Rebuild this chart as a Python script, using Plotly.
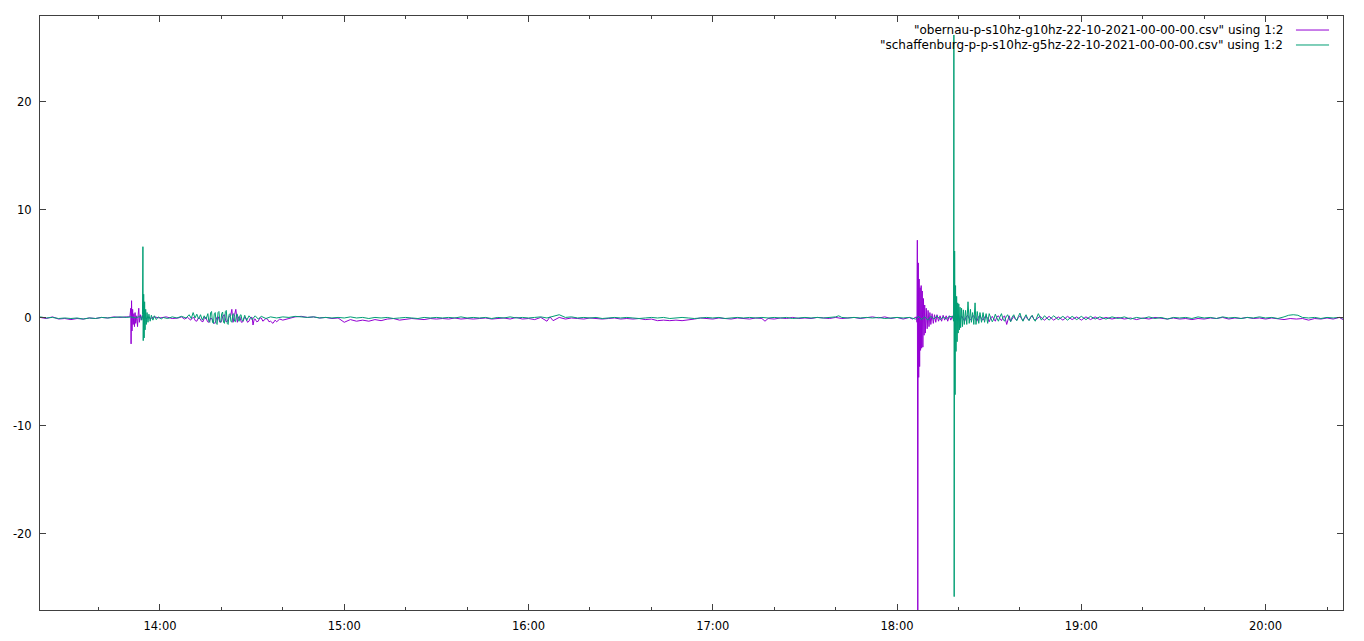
import pandas as pd
import plotly.graph_objects as go

BASE = pd.Timestamp("2021-10-22 13:00:00")

# ---- obernau (purple) : minutes after 13:00, value ----
obernau_t = [
    21, 23, 25, 27, 29, 31, 33, 35, 37, 39, 41, 43, 45, 47, 49,
    50.2, 50.5, 50.6, 50.75, 50.9, 51.1, 51.3, 51.5, 51.7, 51.9, 52.1, 52.4, 52.7, 52.9,
    53.1, 53.3, 53.6, 53.9, 54.2, 54.6, 55.0, 55.5, 56, 57, 58, 60, 62, 64,
    66, 67, 68, 69, 70, 70.5, 71, 71.5, 72, 72.5, 73, 73.5, 74, 74.5, 75, 75.5, 76, 76.5, 77,
    77.5, 78, 78.5, 79, 79.5, 80, 80.5, 81, 81.5, 82, 82.5, 83, 83.4, 83.8,
    84.3, 84.7, 85.2, 85.6, 86, 86.5, 87, 87.5, 88, 88.5, 89, 89.5, 90, 90.3, 90.7, 91, 91.5,
    92, 92.5, 93, 93.5, 94, 94.5, 95, 95.5, 96, 96.8, 97.5, 98, 99,
    100, 102, 104, 106, 108, 110, 112, 114, 116, 118, 120, 122, 124, 126, 128, 130, 132, 134,
    136, 138, 140, 142, 144, 146, 148, 150, 152, 154, 156, 158, 160, 162, 164, 166, 168, 170,
    172, 174, 176, 178, 180, 182, 184, 186, 187, 188, 190, 192, 194, 196, 198, 200, 202, 204,
    206, 208, 210, 212, 214, 216, 218, 220, 222, 224, 226, 228, 230, 232, 234, 236, 238, 240,
    242, 244, 246, 248, 250, 252, 254, 256, 257, 258, 260, 262, 264, 266, 268, 270, 272, 274,
    276, 278, 280, 282, 284, 286, 288, 290, 292, 294, 296, 298, 300, 302, 304, 305, 306,
    306.3, 306.5, 306.6, 306.75, 306.9, 307.05, 307.2, 307.35, 307.5, 307.65, 307.85, 308.0,
    308.2, 308.4, 308.6, 308.8, 309.0, 309.2, 309.5, 309.8, 310.1, 310.4, 310.7, 311.0, 311.4,
    311.8, 312.2, 312.6, 313.0, 313.5, 314.0, 314.5, 315, 315.5, 316, 316.5, 317, 317.5, 318,
    318.5, 319, 319.5, 320, 320.5, 321, 321.5, 322, 322.5, 323, 323.5, 324, 324.5, 325, 325.5,
    326, 326.5, 327, 327.5, 328, 328.5, 329, 329.5, 330, 330.5, 331, 331.5, 332, 332.5,
    333, 333.5, 334, 334.5, 335, 335.7, 336.5, 337, 337.5, 338, 338.5, 339, 339.5, 340, 340.5,
    341, 341.5, 342, 342.5, 343, 343.5, 344, 344.5, 345, 346.5, 348,
    349.5, 351, 352.5, 354, 355.5, 357, 358.5, 360, 361.5, 363, 364.5, 366, 368, 370, 372,
    374, 376, 378, 380, 382, 384, 386, 388, 390, 392, 394, 396, 398, 400, 402, 404, 406, 408,
    410, 412, 414, 416, 418, 420, 422, 424, 426, 428, 430, 432, 434, 436, 438, 440, 442, 444, 445.2,
]
obernau_v = [
    0.05, -0.05, 0.1, -0.1, -0.05, -0.15, -0.05, -0.1, 0.0, -0.05, 0.05, 0.0, 0.1, 0.05, 0.1,
    0.1, 0.9, -2.4, 1.6, -1.2, 0.8, -0.6, 0.4, -0.8, 0.5, -0.5, 0.2, -0.8, 0.3,
    0.9, -0.4, 0.3, -0.2, 0.2, -0.15, 0.15, -0.1, 0.1, -0.05, 0.1, 0.0, 0.1, -0.05,
    0.0, 0.1, -0.1, 0.05, -0.2, 0.0, 0.05, -0.25, -0.3, 0.0, -0.05, -0.3, -0.35, 0.05, 0.0, -0.35, -0.4, 0.0, -0.1,
    -0.5, -0.45, 0.05, 0.1, -0.4, -0.35, 0.2, 0.3, -0.35, -0.3, 0.15, 0.2, 0.8, -0.4,
    0.3, 0.8, -0.4, 0.1, 0.1, -0.4, -0.35, 0.05, 0.0, -0.4, -0.3, 0.05, 0.05, -0.65, -0.1, -0.1, -0.35,
    -0.3, 0.0, 0.0, -0.3, -0.2, -0.05, -0.1, -0.35, -0.3, -0.5, -0.2, -0.35, -0.1,
    -0.2, -0.05, 0.1, 0.15, 0.05, 0.1, 0.0, 0.05, -0.05, 0.0, -0.4, -0.15, -0.3, -0.2, -0.3, -0.15, -0.25, -0.1,
    -0.05, -0.2, -0.1, -0.05, -0.1, -0.15, -0.05, -0.1, -0.05, -0.1, 0.0, -0.1, -0.05, -0.1, -0.05, 0.0, -0.1, -0.05,
    0.0, -0.1, 0.05, -0.1, -0.05, -0.15, 0.05, -0.3, 0.1, -0.25, 0.05, -0.1, 0.0, -0.05, -0.1, 0.0, -0.05, -0.1,
    -0.05, 0.0, -0.1, -0.05, -0.1, -0.05, -0.15, -0.1, -0.25, -0.2, -0.25, -0.2, -0.25, -0.2, -0.1, 0.0, -0.05, -0.1,
    0.0, -0.05, -0.1, 0.0, -0.05, -0.1, 0.0, -0.05, -0.3, -0.05, -0.1, 0.0, -0.05, 0.05, -0.05, 0.0, -0.05, 0.05,
    0.0, -0.05, 0.05, -0.05, 0.0, 0.05, -0.05, 0.0, 0.1, 0.0, 0.1, -0.05, 0.05, -0.1, 0.05, -0.1, 0.1,
    0.1, -0.4, 7.2, -27.5, 5.1, -5.5, 3.6, -4.5, 2.8, -3.0, 3.0, -2.8,
    2.5, -2.7, 1.8, -1.6, 1.2, -1.4, 0.9, -1.0, 0.7, -0.8, 0.5, -0.6, 0.4,
    -0.5, 0.3, -0.4, 0.3, -0.3, 0.2, -0.3, 0.25, -0.2, 0.2, -0.3, 0.2, -0.2, 0.2,
    -0.25, 0.25, -0.2, 0.3, -0.3, 0.2, -0.1, -0.3, 0.1, 0.25, -0.05, -0.2, 0.15, 0.2, -0.1,
    -0.3, 0.1, 0.25, -0.1, -0.2, 0.1, 0.2, -0.05, -0.35, 0.0, 0.15, -0.1, -0.3, 0.1,
    0.2, -0.05, -0.25, 0.05, 0.2, -0.6, 0.2, -0.3, 0.0, 0.15, -0.1, -0.2, 0.05, 0.2, -0.05,
    -0.25, 0.0, 0.15, -0.1, -0.2, 0.05, 0.2, -0.1, -0.2, 0.15, -0.2, 0.15,
    -0.2, 0.1, -0.2, 0.15, -0.15, 0.1, -0.2, 0.1, -0.15, 0.1, -0.15, 0.05, -0.1, 0.05, -0.1,
    0.0, -0.15, 0.0, -0.1, 0.05, -0.05, -0.1, 0.0, -0.1, -0.05, -0.15, -0.05, -0.1, 0.0, -0.05, 0.05, -0.1, 0.0,
    -0.05, 0.05, -0.05, 0.0, -0.1, 0.0, -0.05, -0.15, -0.05, -0.1, -0.05, -0.2, -0.05, -0.1, 0.0, -0.1, 0.05, -0.15, 0.0,
]

# ---- schaffenburg (green) : minutes after 13:00, value ----
schaff_t = [
    21, 23, 25, 27, 29, 31, 33, 35, 37, 39, 41, 43, 45, 47, 49, 50.5, 52, 53, 53.8,
    54.1, 54.3, 54.45, 54.55, 54.7, 54.85, 55.0, 55.15, 55.35, 55.55, 55.8, 56.1, 56.4,
    56.8, 57.2, 57.7, 58.2, 58.8, 59.5, 60.5, 61, 62.5, 64, 65.5, 67, 68.5, 69.5, 70.2,
    70.8, 71.4, 72, 72.6, 73.2, 73.8, 74.4, 75, 75.3, 75.6, 75.9, 76.2, 76.5, 76.8, 77.1,
    77.4, 77.7, 78, 78.3, 78.6, 78.9, 79.2, 79.5, 79.8, 80.1, 80.4, 80.7, 81, 81.3, 81.6,
    81.9, 82.2, 82.5, 82.8, 83.1, 83.4, 83.7, 84, 84.3, 84.6, 84.9, 85.2, 85.5, 85.8, 86.1,
    86.4, 86.7, 87, 87.6, 88.2,
    89, 90, 91, 92, 93, 94.5, 96, 98, 100, 102, 104, 106, 108, 110, 112, 114, 116, 118,
    120, 122, 124, 126, 128, 130, 132, 134, 136, 138, 140, 142, 144, 146, 148, 150, 152,
    154, 156, 158, 160, 162, 164, 166, 168, 170, 172, 174, 176, 178, 180, 182, 184, 186,
    188, 190, 192, 194, 196, 198, 200, 202, 204, 206, 208, 210, 212, 214, 216, 218, 220,
    222, 224, 226, 228, 230, 232, 234, 236, 238, 240, 242, 244, 246, 248, 250, 252, 254,
    256, 258, 260, 262, 264, 266, 268, 270, 272, 274, 276, 278, 280, 281, 282, 284, 286,
    288, 290, 292, 294, 296, 298, 300, 302, 304, 306, 307, 308, 309, 310, 311, 312, 313,
    314, 315, 316, 317, 318.2, 318.4, 318.5, 318.6, 318.75, 318.9, 319.05, 319.2, 319.4,
    319.55, 319.75, 319.9, 320.1, 320.3, 320.5, 320.7, 321.0, 321.3, 321.6, 321.9, 322.3,
    322.7, 323.1, 323.5, 323.9, 324.2, 324.6, 325.0, 325.4, 325.7, 326.1, 326.6, 327.0,
    327.5, 328, 328.5, 329, 329.5, 330, 330.5, 331, 331.5, 332, 332.5, 333, 333.5, 334,
    334.5, 335, 335.5, 336, 336.5, 337, 337.5, 338, 338.5, 339, 339.5, 340, 340.5,
    341, 341.5, 342, 342.5, 343, 343.5, 344, 344.5, 345, 346, 347, 348, 349.5, 351, 352.5, 354, 355.5, 357, 358.5, 360,
    361.5, 363, 364.5, 366, 368, 370, 372, 374, 376, 378, 380, 382, 384, 386, 388, 390, 392,
    394, 396, 398, 400, 402, 404, 406, 408, 410, 412, 414, 416, 418, 420, 422, 424, 426,
    427.5, 429, 430.5, 432, 434, 436, 438, 440, 442, 444, 445.2,
]
schaff_v = [
    0.1, 0.0, 0.05, -0.05, 0.0, -0.05, 0.0, -0.1, 0.0, -0.05, 0.05, 0.0, 0.05, 0.1, 0.05, 0.1, 0.0, 0.1, 0.1,
    -0.2, 0.3, 6.6, -2.1, 2.2, -1.85, 1.5, -1.1, 0.8, -0.6, 0.5, -0.4, 0.35,
    -0.3, 0.25, -0.2, 0.2, -0.15, 0.1, -0.1, 0.05, -0.05, 0.1, 0.0, 0.15, 0.0, 0.3, -0.05,
    0.5, 0.0, 0.35, -0.1, 0.3, -0.2, 0.2, -0.1, 0.2, 0.4, -0.3, -0.4, 0.5, 0.6, -0.4,
    -0.5, 0.4, 0.5, -0.5, -0.6, 0.5, 0.6, -0.3, -0.4, 0.4, 0.55, -0.4, -0.5, 0.6, 0.7,
    -0.5, -0.6, 0.3, 0.4, -0.3, -0.4, 0.3, 0.4, -0.3, -0.35, 0.3, 0.35, -0.25, -0.3, 0.25,
    0.3, -0.2, -0.3, 0.25, -0.25,
    0.2, -0.15, 0.2, -0.1, 0.15, -0.05, 0.1, 0.0, 0.1, 0.05, 0.15, 0.1, 0.05, 0.1, 0.0, 0.05, 0.0, 0.05,
    0.0, 0.1, 0.0, 0.05, -0.05, 0.05, 0.0, 0.05, -0.05, 0.0, 0.05, 0.0, -0.05, 0.05, 0.0, 0.05, 0.0,
    0.05, 0.0, 0.1, 0.0, 0.05, 0.0, 0.05, -0.05, 0.05, 0.0, 0.1, 0.0, 0.05, 0.0, 0.05, 0.1, 0.0,
    0.15, 0.3, 0.05, 0.1, 0.0, 0.05, 0.0, 0.05, -0.05, 0.0, 0.05, 0.0, 0.05, 0.0, -0.05, 0.0, 0.05,
    0.0, 0.05, -0.05, 0.0, 0.05, 0.0, -0.05, 0.0, 0.05, 0.0, 0.05, -0.05, 0.0, 0.05, 0.0, 0.05, 0.0,
    0.05, 0.0, 0.05, 0.0, 0.05, -0.05, 0.0, 0.05, 0.0, 0.05, 0.0, 0.05, 0.1, 0.2, 0.05, 0.0, 0.05,
    0.0, 0.05, 0.0, 0.05, -0.05, 0.0, 0.05, 0.0, 0.05, -0.1, 0.15, -0.15, 0.1, -0.2, 0.15, -0.1, 0.2,
    -0.15, 0.1, -0.1, 0.15, 0.1, -0.3, 26.2, -25.8, 6.2, -7.1, 3.0, -3.1, 2.0,
    -2.2, 1.4, -1.4, 1.3, -1.1, 1.0, -0.9, 0.9, -0.8, 0.75, -0.6, 0.7,
    -0.6, 1.5, -0.5, 0.8, -0.4, 0.5, -0.6, 1.4, -0.6, 0.6, -0.5, 0.5,
    -0.4, 0.5, -0.4, 0.4, -0.5, 0.4, 0.1, -0.35, -0.1, 0.35, 0.0, -0.3, 0.1, 0.4,
    -0.1, -0.3, 0.1, 0.3, -0.05, -0.35, 0.1, 0.3, -0.05, -0.25, 0.15, 0.45, 0.0,
    -0.3, 0.05, 0.3, -0.05, -0.25, 0.1, 0.25, -0.1, -0.3, 0.4, -0.2, 0.2, -0.2, 0.2, -0.15, 0.15, -0.2, 0.15, -0.15, 0.15,
    -0.15, 0.15, -0.1, 0.1, -0.1, 0.1, -0.05, 0.1, -0.1, 0.05, -0.05, 0.1, -0.05, 0.05, -0.1, 0.05, 0.0,
    0.05, -0.05, 0.1, 0.0, 0.05, -0.05, 0.1, 0.0, 0.05, -0.05, 0.05, 0.0, 0.1, 0.0, 0.05, -0.05, 0.1,
    0.25, 0.3, 0.25, 0.05, 0.0, 0.05, -0.05, 0.05, 0.0, 0.05, 0.0,
]

# ---- axis ticks / labels ----
x_range_min = [20.94, 445.2]
y_range = [-27.04, 27.96]
y_tick_vals = [-20, -10, 0, 10, 20]
legend_names = [
    '"obernau-p-s10hz-g10hz-22-10-2021-00-00-00.csv" using 1:2',
    '"schaffenburg-p-p-s10hz-g5hz-22-10-2021-00-00-00.csv" using 1:2',
]
colors = ["#9400D3", "#009E73"]


def to_time(mins):
    return BASE + pd.to_timedelta(pd.Series(mins, dtype=float), unit="min")


fig = go.Figure()
fig.add_trace(go.Scatter(x=to_time(obernau_t), y=obernau_v, mode="lines",
                         line=dict(color=colors[0], width=1), name=legend_names[0],
                         showlegend=False))
fig.add_trace(go.Scatter(x=to_time(schaff_t), y=schaff_v, mode="lines",
                         line=dict(color=colors[1], width=1), name=legend_names[1],
                         showlegend=False))

FONT = dict(family="DejaVu Sans", size=11.5, color="black")
KEY_FONT = dict(family="DejaVu Sans", size=12, color="black")
AX = "#404040"

xr = to_time(x_range_min)
fig.update_xaxes(
    range=[xr.iloc[0], xr.iloc[1]], type="date", tickformat="%H:%M",
    tick0=BASE + pd.Timedelta(hours=1), dtick=3600000,
    ticks="inside", ticklen=6, tickcolor=AX, tickwidth=1,
    minor=dict(ticks="inside", ticklen=3, dtick=1200000, tickcolor=AX, showgrid=False),
    showline=True, linecolor=AX, linewidth=1, mirror="ticks",
    showgrid=False, zeroline=False, tickfont=FONT, ticklabelstandoff=5,
    automargin=False,
)
fig.update_yaxes(
    range=y_range, tickvals=y_tick_vals, ticktext=[str(v) for v in y_tick_vals],
    ticks="inside", ticklen=6, tickcolor=AX, tickwidth=1,
    showline=True, linecolor=AX, linewidth=1, mirror="ticks",
    showgrid=False, zeroline=False, tickfont=FONT, ticklabelstandoff=5,
    automargin=False,
)

# gnuplot-style key: right-aligned text with sample line to its right
key_rows_y = [0.9764, 0.9512]
for name, col, yy in zip(legend_names, colors, key_rows_y):
    fig.add_annotation(xref="paper", yref="paper", x=0.9555, y=yy, text=name,
                       showarrow=False, xanchor="right", yanchor="middle", font=KEY_FONT)
    fig.add_shape(type="line", xref="paper", yref="paper", x0=0.9639, x1=0.9893,
                  y0=yy, y1=yy, line=dict(color=col, width=1))

fig.update_layout(
    width=1364, height=641, autosize=False,
    margin=dict(l=40, r=21, t=16, b=31, pad=0, autoexpand=False),
    paper_bgcolor="white", plot_bgcolor="white",
    font=FONT, showlegend=False,
)

fig.write_html("out.html", config={"displayModeBar": False},
               post_script="document.body.style.margin='0';document.body.style.padding='0';")
